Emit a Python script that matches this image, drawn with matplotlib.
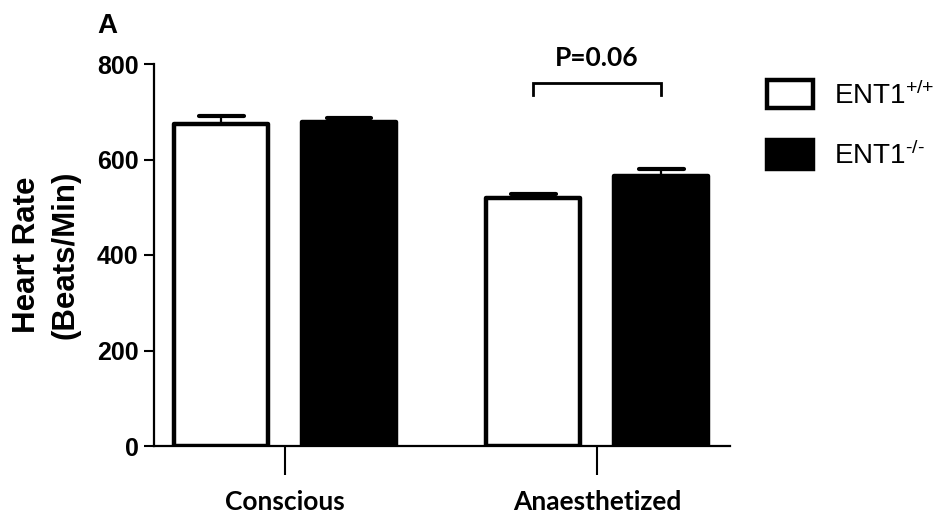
import matplotlib
matplotlib.use("Agg")
import matplotlib.pyplot as plt
import numpy as np

plt.rcParams['font.family'] = ['Liberation Sans', 'DejaVu Sans']
plt.rcParams['mathtext.fontset'] = 'custom'
plt.rcParams['mathtext.rm'] = 'Liberation Sans'
plt.rcParams['mathtext.default'] = 'regular'

# Data
conditions = ["Conscious", "Anaesthetized"]
genotypes = [r"ENT1$^{\text{+/+}}$", r"ENT1$^{\text{-/-}}$"]
wt_mean = [674, 519]
wt_sem = [17, 9]
ko_mean = [679, 565]
ko_sem = [8, 15]
p_label = "P=0.06"
y_ticks = [0, 200, 400, 600, 800]

fig = plt.figure(figsize=(9.53, 5.22), dpi=100)
ax = fig.add_axes([154 / 953, 1 - 446 / 522, (730 - 154) / 953, (446 - 64) / 522])

x = np.arange(len(conditions))
offset = 0.205
width = 0.30
lw_bar = 3.2

b_wt = ax.bar(x - offset, wt_mean, width, color="white", edgecolor="black",
              linewidth=lw_bar, joinstyle="round", label=genotypes[0], zorder=2)
b_ko = ax.bar(x + offset, ko_mean, width, color="black", edgecolor="black",
              linewidth=lw_bar, joinstyle="round", label=genotypes[1], zorder=2)

# upward-only SEM whiskers with rounded caps
cap_half = 0.072
for xs, means, errs in [(x - offset, wt_mean, wt_sem), (x + offset, ko_mean, ko_sem)]:
    tops = np.array(means) + np.array(errs)
    ax.vlines(xs, means, tops, color="black", linewidth=1.6, zorder=3)
    caps = ax.hlines(tops, xs - cap_half, xs + cap_half, color="black",
                     linewidth=3.0, zorder=3)
    caps.set_capstyle("round")

# significance bracket over the anaesthetized pair
bx1, bx2 = x[1] - offset, x[1] + offset
ax.plot([bx1, bx1, bx2, bx2], [735, 760, 760, 735], color="black",
        linewidth=2.0, clip_on=False, solid_joinstyle="miter")
ax.text((bx1 + bx2) / 2, 812, p_label, ha="center", va="center",
        fontsize=19, fontweight="bold", family=["Lato", "DejaVu Sans"])

ax.set_xlim(-0.42, 1.426)
ax.set_ylim(0, 800)
ax.set_yticks(y_ticks)
ax.set_yticklabels([str(v) for v in y_ticks], fontsize=18, fontweight="bold")
ax.set_xticks(x)
ax.set_xticklabels(conditions, fontsize=19, fontweight="bold",
                   family=["Lato", "DejaVu Sans"])

ax.tick_params(axis="y", direction="out", length=7, width=1.5, pad=4)
ax.tick_params(axis="x", direction="out", length=21, width=1.5, pad=11)

for s in ["top", "right"]:
    ax.spines[s].set_visible(False)
for s in ["left", "bottom"]:
    ax.spines[s].set_linewidth(1.6)

ax.set_ylabel("Heart Rate\n(Beats/Min)", fontsize=22.5, fontweight="bold",
              linespacing=1.35)
ax.yaxis.set_label_coords(-0.128, 0.5)

fig.text(97 / 953, 1 - 33 / 522, "A", fontsize=20, fontweight="bold",
         ha="left", va="baseline")

leg = ax.legend(handles=[b_wt, b_ko], loc="upper left",
                bbox_to_anchor=(767 / 953, 1 - 80 / 522),
                bbox_transform=fig.transFigure, frameon=False,
                fontsize=20, handlelength=1.65, handleheight=1.2,
                handletextpad=0.75, labelspacing=1.1, borderaxespad=0,
                borderpad=0)

fig.savefig("out.png", dpi=100)
